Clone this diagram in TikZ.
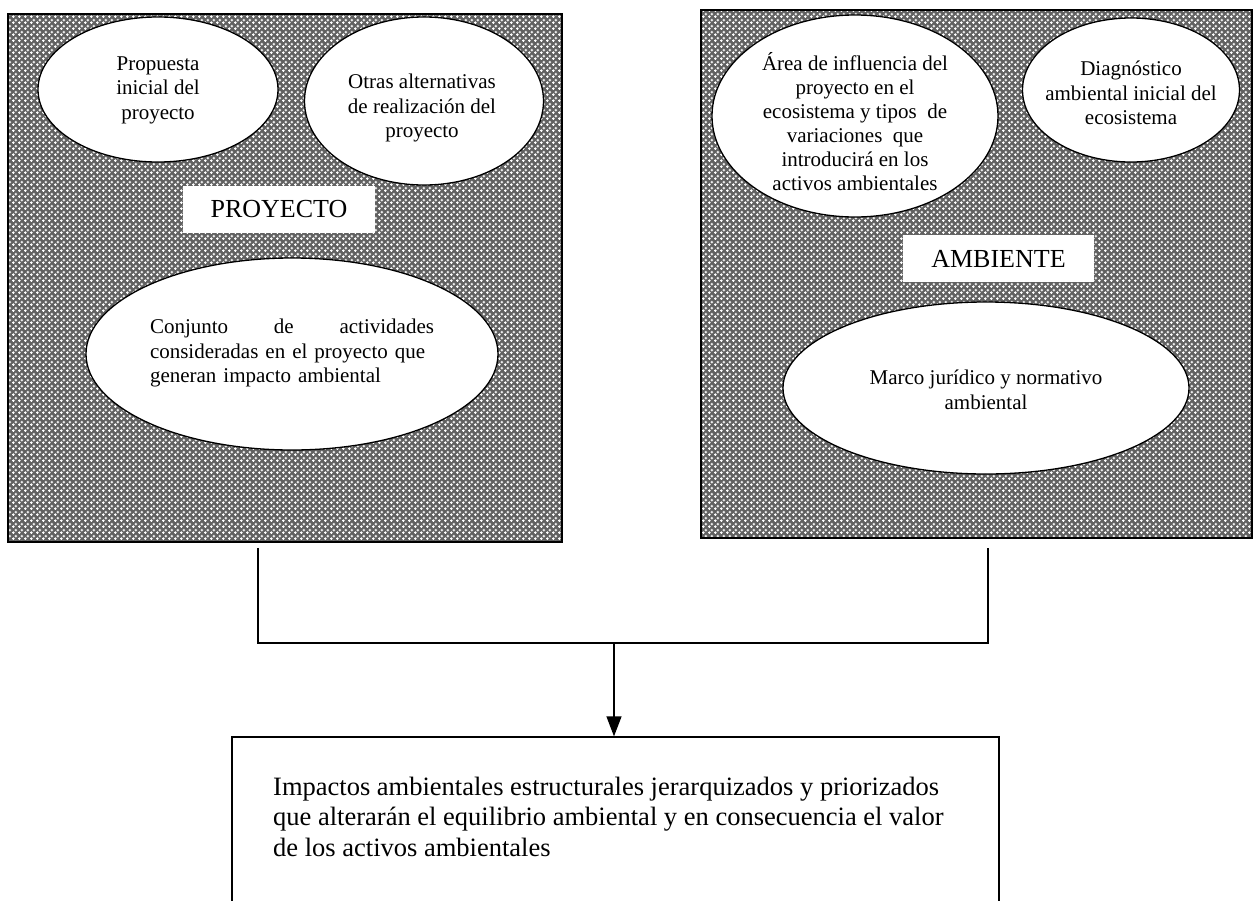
\documentclass[tikz,border=0pt]{standalone}
\usepackage{fontspec}
\setmainfont{Liberation Serif}
\usetikzlibrary{patterns.meta,arrows.meta,calc,shapes.geometric}

\tikzdeclarepattern{
  name=confetti,
  type=uncolored,
  bounding box={(0pt,0pt) and (6pt,6pt)},
  tile size={(6pt,6pt)},
  code={
    \fill (0.9pt,0pt) rectangle (2.1pt,3pt);
    \fill (0pt,0.9pt) rectangle (3pt,2.1pt);
    \fill (3.9pt,3pt) rectangle (5.1pt,6pt);
    \fill (3pt,3.9pt) rectangle (6pt,5.1pt);
  }
}

\tikzset{
  panel/.style={draw=black, line width=1.6pt, preaction={fill=black!62},
    pattern=confetti, pattern color=white, inner sep=0pt},
  oval/.style={ellipse, draw=black, line width=1.3pt, fill=white, inner sep=0pt},
  txt/.style={font=\fontsize{21}{24.5}\selectfont, align=center, inner sep=0pt},
  tag/.style={fill=white, inner sep=0pt, font=\fontsize{26}{30}\selectfont},
  conn/.style={line width=1.3pt},
  arr/.style={conn, -{Triangle[length=20pt,width=15pt]}},
  outbox/.style={draw=black, line width=1.3pt, inner sep=0pt}
}

\begin{document}
\begin{tikzpicture}[x=1pt,y=-1pt]
\useasboundingbox (0,0) rectangle (1256,900);

% panels
\node[panel, minimum width=554pt, minimum height=528pt] (proj) at (285,278) {};
\node[panel, minimum width=551pt, minimum height=528pt] (amb) at (976.5,274) {};

% PROYECTO panel content
\node[oval, minimum width=240pt, minimum height=145pt] (e1) at (158,89.5) {};
\node[txt] (e1t) at (158,90) {Propuesta\\inicial del\\proyecto};
\node[oval, minimum width=239pt, minimum height=168pt] (e2) at (424,101) {};
\node[txt] (e2t) at (422,108) {Otras alternativas\\de realización del\\proyecto};
\node[tag, minimum width=192pt, minimum height=47pt] (ptag) at (279,209.5) {PROYECTO\hspace{14pt}};
\node[oval, minimum width=412pt, minimum height=192pt] (e3) at (292,354) {};
\node[txt, align=left, text width=284pt] (e3t) at (292,353)
  {Conjunto\hfill de\hfill actividades\\consideradas en el proyecto que\\generan impacto ambiental};

% AMBIENTE panel content
\node[oval, minimum width=286pt, minimum height=202pt] (e4) at (855,116) {};
\node[txt, font=\fontsize{21}{24}\selectfont] (e4t) at (855,122)
  {Área de influencia del\\proyecto en el\\ecosistema y tipos~ de\\variaciones~ que\\introducirá en los\\activos ambientales};
\node[oval, minimum width=217pt, minimum height=144pt] (e5) at (1131,90) {};
\node[txt] (e5t) at (1131,93) {Diagnóstico\\ambiental inicial del\\ecosistema};
\node[tag, minimum width=191pt, minimum height=47pt] (atag) at (998.5,258.5) {AMBIENTE\hspace{14pt}};
\node[oval, minimum width=406pt, minimum height=172pt] (e6) at (986,388) {};
\node[txt, font=\fontsize{21}{25}\selectfont] (e6t) at (986,390) {Marco jurídico y normativo\\ambiental};

% result box
\node[outbox, minimum width=767pt, minimum height=263pt] (res) at (615.5,868.5) {};
\node[inner sep=0pt, anchor=west, align=left, font=\fontsize{26.5}{30.5}\selectfont] (rest) at (273,816.5)
  {Impactos ambientales estructurales jerarquizados y priorizados\\que alterarán el equilibrio ambiental y en consecuencia el valor\\de los activos ambientales};

% connectors
\coordinate (jL) at (258,643);
\coordinate (jR) at (988,643);
\coordinate (jM) at (614,643);
\draw[conn] ($(proj.south -| jL)+(0,5)$) -- (jL) -- (jR) -- ($(amb.south -| jR)+(0,9)$);
\draw[arr] (jM) -- (res.north -| jM);
\end{tikzpicture}
\end{document}
